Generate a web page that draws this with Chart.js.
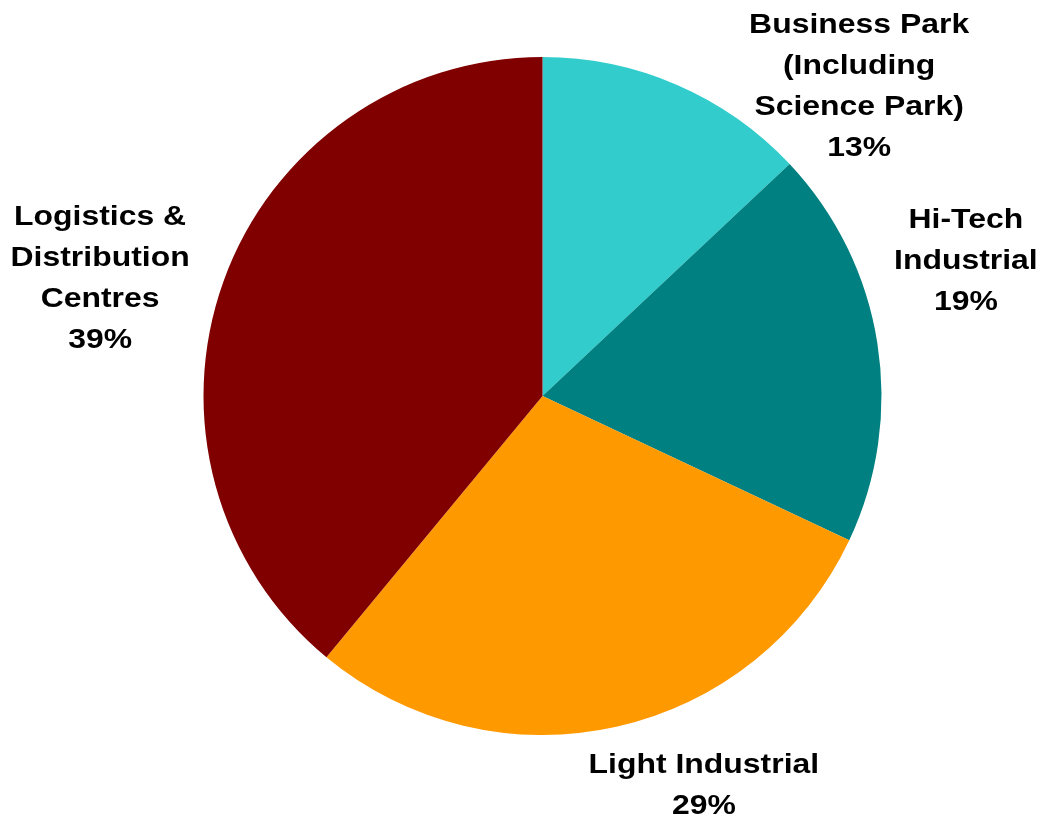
<!DOCTYPE html>
<html>
<head>
<meta charset="utf-8">
<script src="https://cdn.jsdelivr.net/npm/chart.js@4"></script>
<style>
  html, body { margin: 0; padding: 0; background: #fff; }
  #wrap { width: 1044px; height: 823px; }
</style>
</head>
<body>
<div id="wrap"><canvas id="pieChart"></canvas></div>
<script>
// floorspace split by use class
const categories = [
  ['Business Park', '(Including', 'Science Park)'],
  ['Hi-Tech', 'Industrial'],
  ['Light Industrial'],
  ['Logistics &', 'Distribution', 'Centres']
];
const shares = [13, 19, 29, 39];
const colours = ['#33CCCC', '#008080', '#FF9900', '#800000'];

// label block centres, relative to pie centre, in units of radius
const labelSpots = [[0.934, -0.915], [1.249, -0.400], [0.476, 1.147], [-1.305, -0.35]];

const outsideLabels = {
  id: 'outsideLabels',
  afterDatasetsDraw(chart) {
    const ctx = chart.ctx;
    const meta = chart.getDatasetMeta(0);
    const total = shares.reduce((a, b) => a + b, 0);
    ctx.save();
    ctx.font = 'bold 28px "Liberation Sans", Arial, sans-serif';
    ctx.fillStyle = '#000';
    ctx.textAlign = 'center';
    ctx.textBaseline = 'middle';
    meta.data.forEach((arc, i) => {
      const r = arc.outerRadius;
      const lines = categories[i].concat([Math.round(shares[i] / total * 100) + '%']);
      const cx = arc.x + labelSpots[i][0] * r;
      const cy = arc.y + labelSpots[i][1] * r;
      const lh = 41;
      const top = cy - (lines.length - 1) * lh / 2;
      lines.forEach((t, k) => {
        // text is set a little wide
        ctx.save();
        ctx.translate(cx, top + k * lh + 1);
        ctx.scale(1.14, 1);
        ctx.fillText(t, 0, 0);
        ctx.restore();
      });
    });
    ctx.restore();
  }
};

new Chart(document.getElementById('pieChart'), {
  type: 'pie',
  data: {
    labels: categories.map(c => c.join(' ')),
    datasets: [{
      data: shares,
      backgroundColor: colours,
      borderWidth: 0
    }]
  },
  options: {
    responsive: true,
    maintainAspectRatio: false,
    animation: false,
    layout: { padding: { top: 57, bottom: 88, left: 203.5, right: 162.5 } },
    plugins: {
      legend: { display: false },
      tooltip: { enabled: false }
    }
  },
  plugins: [outsideLabels]
});
</script>
</body>
</html>
